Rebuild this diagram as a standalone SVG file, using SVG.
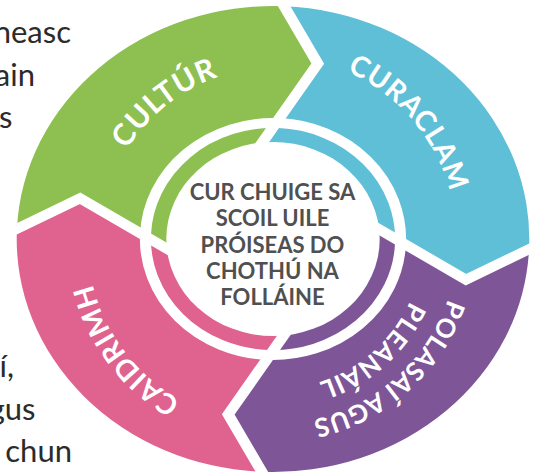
<svg xmlns="http://www.w3.org/2000/svg" width="537" height="474" viewBox="0 0 537 474">
<style>
.side{font-family:Lato,"Liberation Sans",sans-serif;font-size:31px;fill:#2b2b2b;text-anchor:end}
.lbl{font-family:Lato,"Liberation Sans",sans-serif;font-weight:700;font-size:28.5px;fill:#ffffff;letter-spacing:0.8px}
.lbl2{font-size:26px;letter-spacing:0.5px}
.big{font-size:30px}
.ctr{font-family:Lato,"Liberation Sans",sans-serif;font-weight:700;font-size:22px;fill:#505050;text-anchor:middle}
.gap{fill:none;stroke:#ffffff;stroke-width:10;stroke-linejoin:miter}
</style>
<defs>
<path id="wedge" d="M0,0 L-91.5,16.5 L-120,0 L-177,-33 L-233,0 A233,233 0 0 1 0,-233 L33,-177 L0,-120 L-16.5,-91.5 Z"/>
<polyline id="div" points="-6.6,-244.2 33,-177 0,-120 -20,-85.5"/>
<path id="p-cultur" d="M110.8,293.3 A171,171 0 0 1 362.3,93.2"/>
<path id="p-curaclam" d="M208.9,67.6 A183,183 0 0 1 432.3,329.1"/>
<path id="p-caidrimh" d="M327.4,416.9 A186,186 0 0 1 117,137.7"/>
<path id="p-pol1" d="M444.9,170.6 A185,185 0 0 1 185.3,401.9"/>
<path id="p-pol2" d="M413,183.6 A150.6,150.6 0 0 1 201.4,371.5"/>
</defs>
<g id="side-text">
<text class="side" x="71" y="43">neasc</text>
<text class="side" x="35" y="85.5">ain</text>
<text class="side" x="12.5" y="128">s</text>
<text class="side" x="14" y="377">í,</text>
<text class="side" x="35.5" y="419.5">gus</text>
<text class="side" x="72" y="462">chun</text>
</g>
<g id="cultur">
<use href="#wedge" fill="#8DC050" transform="translate(273 239) scale(1.1 1) rotate(2.5)"/>
<text class="lbl big"><textPath href="#p-cultur" startOffset="50%" text-anchor="middle">CULTÚR</textPath></text>
</g>
<g id="curaclam">
<use href="#wedge" fill="#5EBFD7" transform="translate(273 239) scale(1.1 1) rotate(92.5)"/>
<text class="lbl"><textPath href="#p-curaclam" startOffset="50%" text-anchor="middle">CURACLAM</textPath></text>
</g>
<g id="polasai">
<use href="#wedge" fill="#7E5597" transform="translate(273 239) scale(1.1 1) rotate(182.5)"/>
<text class="lbl lbl2"><textPath href="#p-pol1" startOffset="50%" text-anchor="middle">POLASAÍ AGUS</textPath></text>
<text class="lbl lbl2"><textPath href="#p-pol2" startOffset="50%" text-anchor="middle">PLEANÁIL</textPath></text>
</g>
<g id="caidrimh">
<use href="#wedge" fill="#E0628E" transform="translate(273 239) scale(1.1 1) rotate(272.5)"/>
<text class="lbl"><textPath href="#p-caidrimh" startOffset="50%" text-anchor="middle">CAIDRIMH</textPath></text>
</g>
<g id="connectors">
<g transform="translate(273 239) scale(1.1 1) rotate(2.5)">
<circle r="116" class="gap" stroke-width="8"/>
<use href="#div" class="gap"/>
<use href="#div" class="gap" transform="rotate(90)"/>
<use href="#div" class="gap" transform="rotate(180)"/>
<use href="#div" class="gap" transform="rotate(270)"/>
</g>
</g>
<g id="center">
<ellipse cx="273" cy="239" rx="106.7" ry="97" fill="#ffffff"/>
<text class="ctr" x="272.5" y="200">CUR CHUIGE SA</text>
<text class="ctr" x="272.5" y="226.3">SCOIL UILE</text>
<text class="ctr" x="272.5" y="252.6">PRÓISEAS DO</text>
<text class="ctr" x="272.5" y="279">CHOTHÚ NA</text>
<text class="ctr" x="272.5" y="305.3">FOLLÁINE</text>
</g>
</svg>
